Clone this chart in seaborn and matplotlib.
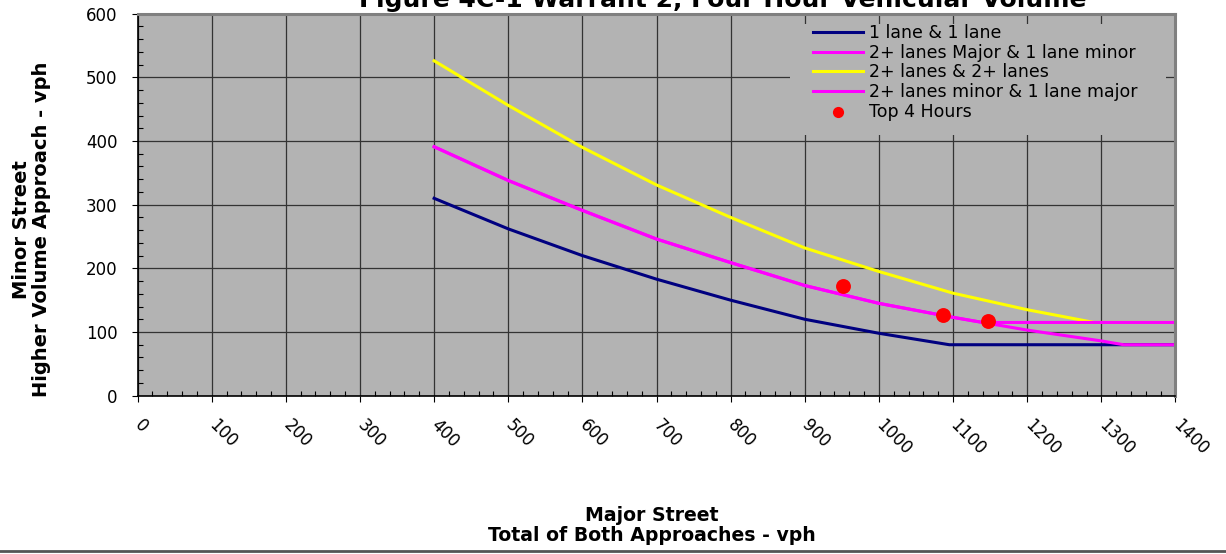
import matplotlib
matplotlib.use("Agg")
import matplotlib.pyplot as plt
from matplotlib.patches import Rectangle
from matplotlib.lines import Line2D
from matplotlib.ticker import MultipleLocator
import seaborn as sns

# warrant curves (major street vph -> minor street vph)
one_one_x = [400, 500, 600, 700, 800, 900, 1000, 1095, 1400]
one_one_y = [310, 262, 220, 183, 150, 120, 98, 80, 80]

major2_minor1_x = [400, 500, 600, 700, 800, 900, 1000, 1100, 1200, 1300, 1330, 1400]
major2_minor1_y = [391, 338, 291, 246, 209, 173, 145, 123, 103, 86, 80, 80]

two_two_x = [400, 500, 600, 700, 800, 900, 1000, 1100, 1200, 1290, 1400]
two_two_y = [526, 456, 390, 331, 280, 232, 195, 161, 135, 115, 115]

minor2_major1_x = [400, 500, 600, 700, 800, 900, 1000, 1100, 1140, 1400]
minor2_major1_y = [391, 338, 291, 246, 209, 173, 145, 123, 115, 115]

top_hours_x = [951, 1086, 1147]
top_hours_y = [172, 127, 117]

BG = "#b3b3b3"

fig = plt.figure(figsize=(12.26, 5.54), dpi=100)
ax = fig.add_axes([0.1122, 0.2858, 0.8466, 0.6895])
ax.set_facecolor(BG)

sns.lineplot(x=one_one_x, y=one_one_y, color="#000080", lw=2.2, ax=ax, label="1 lane & 1 lane")
sns.lineplot(x=major2_minor1_x, y=major2_minor1_y, color="#ff00ff", lw=2.2, ax=ax,
             label="2+ lanes Major & 1 lane minor")
sns.lineplot(x=two_two_x, y=two_two_y, color="#ffff00", lw=2.2, ax=ax, label="2+ lanes & 2+ lanes")
sns.lineplot(x=minor2_major1_x, y=minor2_major1_y, color="#ff00ff", lw=2.2, ax=ax,
             label="2+ lanes minor & 1 lane major")
sns.scatterplot(x=top_hours_x, y=top_hours_y, color="#ff0000", s=115, linewidth=0, ax=ax,
                label="Top 4 Hours", zorder=3)

ax.set_xlim(0, 1400)
ax.set_ylim(0, 600)
ax.xaxis.set_major_locator(MultipleLocator(100))
ax.xaxis.set_minor_locator(MultipleLocator(20))
ax.yaxis.set_major_locator(MultipleLocator(100))
ax.yaxis.set_minor_locator(MultipleLocator(20))

ax.set_axisbelow(True)
ax.grid(True, which="major", color="#333333", lw=0.9)

ax.tick_params(which="major", direction="out", length=4.5, width=0.8, labelsize=12)
ax.tick_params(axis="y", which="major", pad=10)
ax.tick_params(axis="x", which="major", pad=15)
ax.tick_params(which="minor", direction="in", length=3.6, width=0.8)
for lab in ax.get_xticklabels():
    lab.set_rotation(-45)
    lab.set_ha("left")
    lab.set_va("center")
    lab.set_rotation_mode("anchor")

for side in ["left", "bottom"]:
    ax.spines[side].set_color("black")
    ax.spines[side].set_linewidth(1.2)
for side in ["top", "right"]:
    ax.spines[side].set_color("#808080")
    ax.spines[side].set_linewidth(2.2)

# legend sits on a plain gray box that hides the grid
ax.add_patch(Rectangle((0.6286, 0.6825), 0.3623, 0.2905, transform=ax.transAxes,
                       facecolor=BG, edgecolor="none", zorder=1))
ax.legend(loc="upper left", bbox_to_anchor=(813 / 1226, 1 - 24 / 554),
          bbox_transform=fig.transFigure, frameon=False, fontsize=12.5,
          borderpad=0, borderaxespad=0, handlelength=2.9, handletextpad=0.35,
          labelspacing=0.1, markerscale=0.75)

ax.set_xlabel("Major Street\nTotal of Both Approaches - vph", fontsize=13.6,
              fontweight="bold", linespacing=1.05)
ax.xaxis.set_label_coords(0.4956, -0.29)
ax.set_ylabel("Minor Street\nHigher Volume Approach - vph", fontsize=14,
              fontweight="bold", linespacing=1.1, va="center", ha="center")
ax.yaxis.set_label_coords(-0.1022, 0.436)

fig.text(0.5893, 1 - 6.5 / 554, "Figure 4C-1 Warrant 2, Four Hour Vehicular Volume",
         ha="center", va="baseline", fontsize=18, fontweight="bold")

fig.add_artist(Line2D([0, 1], [1 - 551 / 554] * 2, transform=fig.transFigure,
                      color="#555555", lw=2))

fig.savefig("out.png", dpi=100)
